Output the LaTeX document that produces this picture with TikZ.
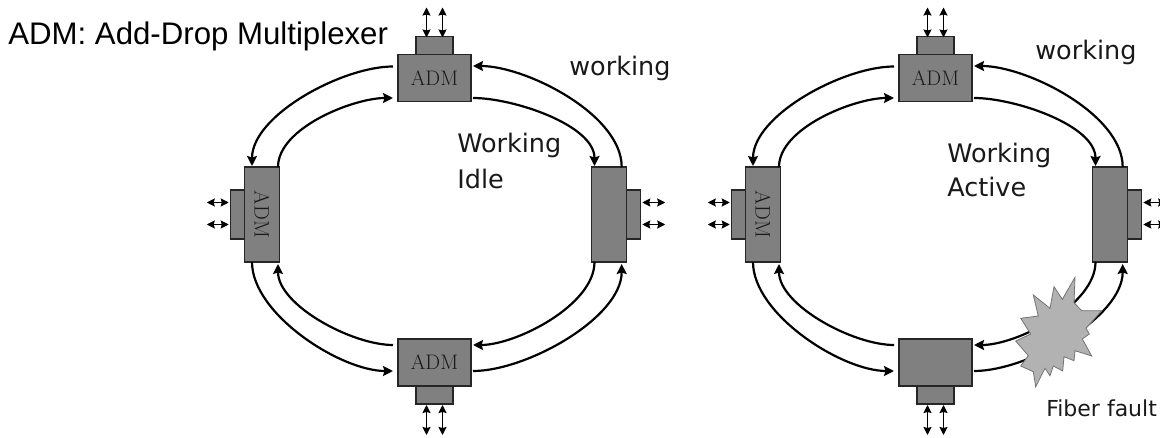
\documentclass[tikz,border=0pt]{standalone}
\usepackage{fontspec}
\usepackage{tikz}
\usetikzlibrary{arrows.meta,positioning}
\newfontfamily\headfont{Liberation Sans}
\newfontfamily\labelfont{DejaVu Sans}
\begin{document}
\begin{tikzpicture}[x=1pt,y=-1pt,semithick]
  \tikzstyle{adm}=[rectangle,draw=black!85,fill=black!50,inner sep=0pt,outer sep=0pt,line width=1.2pt,text=black!90,font=\fontsize{21}{21}\selectfont]
  \tikzstyle{wide}=[adm,minimum width=73pt,minimum height=47pt]
  \tikzstyle{tall}=[adm,minimum width=34.5pt,minimum height=95pt]
  \tikzstyle{tabh}=[adm,minimum width=37pt,minimum height=18pt]
  \tikzstyle{tabv}=[adm,minimum width=14pt,minimum height=49pt]
  \tikzstyle{fiber}=[-{Stealth[length=10pt,width=10pt,inset=1.5pt]},line width=2.2pt,looseness=.75]
  \tikzstyle{drop}=[{Stealth[length=8pt,width=8pt,inset=1pt]}-{Stealth[length=8pt,width=8pt,inset=1pt]},line width=1.5pt]
  \tikzstyle{note}=[anchor=base west,inner sep=0pt,font=\labelfont\fontsize{25.5}{25.5}\selectfont,text=black!90]

  \clip (0,0) rectangle (1160,438);

  \foreach \ring/\dx/\admtext in {1/0/ADM,2/501/{}} {
  \begin{scope}[xshift=\dx pt]
  % boxes
  \node[wide] (T\ring) at (434.5,78)    {ADM};
  \node[tall] (L\ring) at (262,214.5)   {\rotatebox{-90}{ADM}};
  \node[tall] (R\ring) at (609,214.5)   {};
  \node[wide] (B\ring) at (434.5,362.5) {\admtext};

  \node[tabh] (Ttab\ring) [above=0pt of T\ring] {};
  \node[tabv] (Ltab\ring) [left=0pt of L\ring]  {};
  \node[tabv] (Rtab\ring) [right=0pt of R\ring] {};
  \node[tabh] (Btab\ring) [below=0pt of B\ring] {};

  % free ends of the add/drop arrows
  \coordinate (Ta\ring) at ([xshift=-8pt,yshift=29pt]Ttab\ring.north);
  \coordinate (Tb\ring) at ([xshift=8pt,yshift=29pt]Ttab\ring.north);
  \coordinate (La\ring) at ([xshift=-24pt,yshift=12pt]Ltab\ring.west);
  \coordinate (Lb\ring) at ([xshift=-24pt,yshift=-10pt]Ltab\ring.west);
  \coordinate (Ra\ring) at ([xshift=25pt,yshift=12pt]Rtab\ring.east);
  \coordinate (Rb\ring) at ([xshift=25pt,yshift=-10pt]Rtab\ring.east);
  \coordinate (Ba\ring) at ([xshift=-8pt,yshift=-31pt]Btab\ring.south);
  \coordinate (Bb\ring) at ([xshift=8pt,yshift=-31pt]Btab\ring.south);

  \path[drop]
  ([xshift=-8pt,yshift=-1pt]Ttab\ring.north) edge (Ta\ring)
  ([xshift=8pt,yshift=-1pt]Ttab\ring.north) edge (Tb\ring)
  ([xshift=-2pt,yshift=12pt]Ltab\ring.west) edge (La\ring)
  ([xshift=-2pt,yshift=-10pt]Ltab\ring.west) edge (Lb\ring)
  ([xshift=2pt,yshift=12pt]Rtab\ring.east) edge (Ra\ring)
  ([xshift=2pt,yshift=-10pt]Rtab\ring.east) edge (Rb\ring)
  ([xshift=-8pt,yshift=-1pt]Btab\ring.south) edge (Ba\ring)
  ([xshift=8pt,yshift=-1pt]Btab\ring.south) edge (Bb\ring);

  \path[fiber]
  ([xshift=-5pt,yshift=11.5pt]T\ring.west) edge [out=180,in=90] ([xshift=-10pt,yshift=1pt]L\ring.north)
  ([xshift=16pt]L\ring.north) edge [out=90,in=180] ([xshift=-5pt,yshift=-20pt]T\ring.west)
  ([xshift=-10pt]L\ring.south) edge [out=-90,in=180] ([xshift=-5pt,yshift=-8.5pt]B\ring.west)
  ([xshift=-5pt,yshift=17.5pt]B\ring.west) edge [out=180,in=-90] ([xshift=16pt,yshift=-2pt]L\ring.south)
  ([xshift=12.7pt]R\ring.north) edge [out=90,in=0] ([xshift=2pt,yshift=12pt]T\ring.east)
  ([xshift=2pt,yshift=-20pt]T\ring.east) edge [out=0,in=90] ([xshift=-14.5pt,yshift=1pt]R\ring.north)
  ([xshift=-14.5pt]R\ring.south) edge [out=-90,in=0] ([xshift=2pt,yshift=17.5pt]B\ring.east)
  ([xshift=2pt,yshift=-8.5pt]B\ring.east) edge [out=0,in=-90] ([xshift=12.7pt,yshift=-2pt]R\ring.south);
  \end{scope}
  }

  % fault over the second ring
  \draw[draw=black!55,fill=black!30,line width=0.8pt]
  (1075,277.3) -- (1074,302.7) -- (1081.7,310.7) -- (1101.7,310.7) -- (1086,328.3) -- (1089.3,334) -- (1082.3,339) -- (1091.7,356) -- (1075,350.7) -- (1074,360.7) -- (1064,356.7) -- (1062.7,371) -- (1053.3,366) -- (1050,375.7) -- (1045,368.3) -- (1035.7,386.7) -- (1033.3,371.7) -- (1020.7,366) -- (1028.3,355.7) -- (1015.7,341) -- (1030.7,334) -- (1020.7,318.3) -- (1038.3,316) -- (1033.3,295) -- (1050,308.3) -- (1054,286.7) -- (1062.3,299.3) -- cycle;

  \node[anchor=base west,inner sep=0pt,font=\headfont\fontsize{31.2}{31.2}\selectfont] (title) at (8,45) {ADM: Add-Drop Multiplexer};
  \node[note] (work1) at (569,76)  {working};
  \node[note] (wstate1) at (457,153) {Working};
  \node[note] (idle) at (457,189)  {Idle};
  \node[note] (work2) at (1035,60) {working};
  \node[note] (wstate2) at (947,163) {Working};
  \node[note] (active) at (947,197) {Active};
  \node[note,font=\labelfont\fontsize{22}{22}\selectfont] (fault) at (1046,417) {Fiber fault};
\end{tikzpicture}
\end{document}
